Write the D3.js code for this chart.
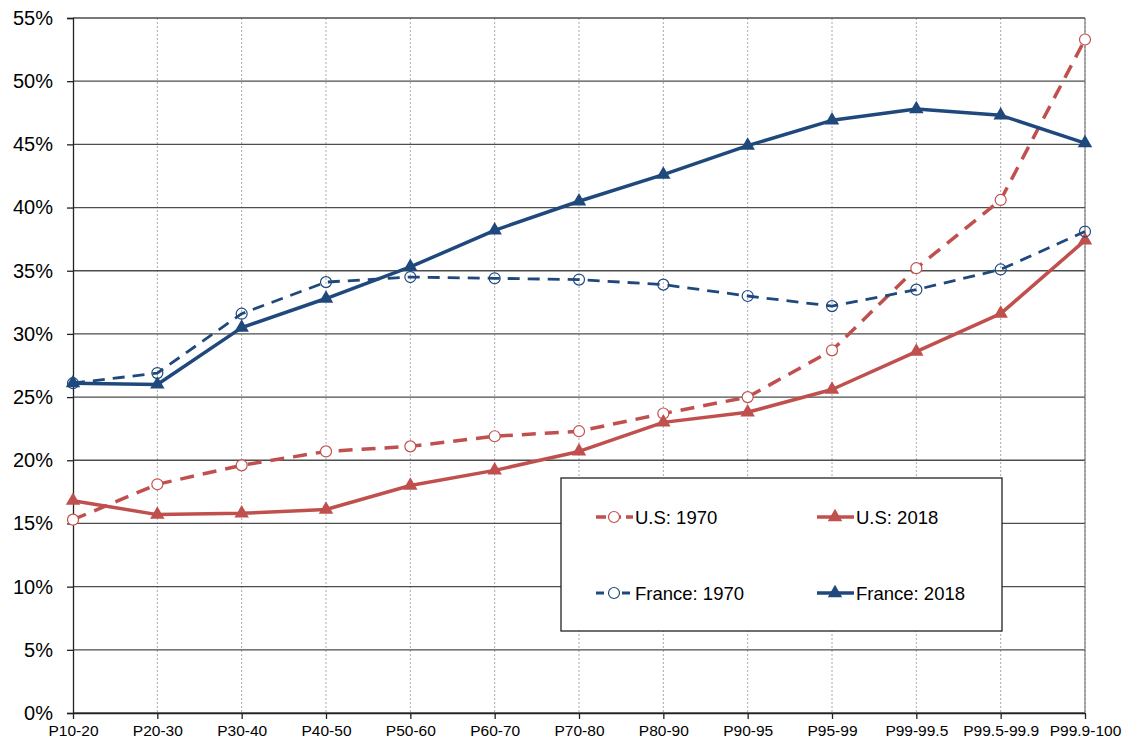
<!DOCTYPE html>
<html>
<head>
    <script src="https://cdn.jsdelivr.net/npm/d3@7"></script>
    <style>
        body { margin: 0; background: #fff; }
        svg { font-family: "Liberation Sans", Arial, sans-serif; }
    </style>
</head>
<body>
    <svg width="1130" height="745"></svg>
    <script>
        const categories = ['P10-20', 'P20-30', 'P30-40', 'P40-50', 'P50-60', 'P60-70', 'P70-80',
            'P80-90', 'P90-95', 'P95-99', 'P99-99.5', 'P99.5-99.9', 'P99.9-100']
        const us1970 = [15.3, 18.1, 19.6, 20.7, 21.1, 21.9, 22.3, 23.7, 25.0, 28.7, 35.2, 40.6, 53.3]
        const us2018 = [16.8, 15.7, 15.8, 16.1, 18.0, 19.2, 20.7, 23.0, 23.8, 25.6, 28.6, 31.6, 37.4]
        const fr1970 = [26.1, 26.9, 31.6, 34.1, 34.5, 34.4, 34.3, 33.9, 33.0, 32.2, 33.5, 35.1, 38.1]
        const fr2018 = [26.1, 26.0, 30.5, 32.8, 35.3, 38.2, 40.5, 42.6, 44.9, 46.9, 47.8, 47.3, 45.1]
        const yTicks = [0, 5, 10, 15, 20, 25, 30, 35, 40, 45, 50, 55]

        const RED = '#C0504D'
        const BLUE = '#1F497D'

        const series = [
            { name: 'U.S: 1970', values: us1970, color: RED, dash: '14,9', legDash: '10,5', width: 3.5, marker: 'circle', fill: '#fff' },
            { name: 'U.S: 2018', values: us2018, color: RED, dash: null, width: 3.5, marker: 'triangle' },
            { name: 'France: 1970', values: fr1970, color: BLUE, dash: '12,8', legDash: '8,5', width: 2.8, marker: 'circle', fill: 'none' },
            { name: 'France: 2018', values: fr2018, color: BLUE, dash: null, width: 3.5, marker: 'triangle' }
        ]

        const svg = d3.select('svg')
        const plotLeft = 73, plotRight = 1085, plotTop = 18, plotBottom = 713

        const x = d3.scalePoint().domain(categories).range([plotLeft, plotRight])
        const y = d3.scaleLinear().domain([0, 55]).range([plotBottom, plotTop])

        // vertical dotted gridlines
        svg.append('g').selectAll('line').data(categories.slice(1)).join('line')
            .attr('x1', d => x(d)).attr('x2', d => x(d))
            .attr('y1', plotTop).attr('y2', plotBottom)
            .attr('stroke', '#aaa').attr('stroke-width', 1).attr('stroke-dasharray', '2,2')

        // horizontal gridlines
        svg.append('g').selectAll('line').data(yTicks).join('line')
            .attr('x1', plotLeft).attr('x2', plotRight)
            .attr('y1', d => y(d)).attr('y2', d => y(d))
            .attr('stroke', '#4d4d4d').attr('stroke-width', 1.3)

        // y axis
        const yAxis = svg.append('g').attr('transform', `translate(${plotLeft},0)`)
            .call(d3.axisLeft(y).tickValues(yTicks).tickFormat(d => d + '%').tickSize(6).tickPadding(14))
        yAxis.select('.domain').attr('stroke', '#222').attr('stroke-width', 1.3)
        yAxis.selectAll('.tick line').attr('stroke', '#222').attr('stroke-width', 1.3)
        yAxis.selectAll('text').attr('font-size', 20).attr('fill', '#000')
            .attr('font-family', '"Liberation Sans", Arial, sans-serif')

        // x axis
        const xAxis = svg.append('g').attr('transform', `translate(0,${plotBottom})`)
            .call(d3.axisBottom(x).tickSize(6).tickPadding(6).tickSizeOuter(0))
        xAxis.select('.domain').attr('stroke', '#222').attr('stroke-width', 1.3)
        xAxis.selectAll('.tick line').attr('stroke', '#222').attr('stroke-width', 1.3)
        xAxis.selectAll('text').attr('font-size', 15.5).attr('fill', '#000')
            .attr('font-family', '"Liberation Sans", Arial, sans-serif')

        // right border
        svg.append('line').attr('x1', plotRight).attr('x2', plotRight).attr('y1', plotTop).attr('y2', plotBottom)
            .attr('stroke', '#666').attr('stroke-width', 1)

        const line = d3.line().x((d, i) => x(categories[i])).y(d => y(d))
        const tri = d3.symbol().type(d3.symbolTriangle).size(90)

        function drawMarker (g, cx, cy, s) {
            if (s.marker === 'circle') {
                g.append('circle').attr('cx', cx).attr('cy', cy).attr('r', 5.5)
                    .attr('fill', s.fill).attr('stroke', s.color).attr('stroke-width', 1.2)
            } else {
                g.append('path').attr('d', tri).attr('transform', `translate(${cx},${cy})`)
                    .attr('fill', s.color)
            }
        }

        series.forEach(s => {
            const g = svg.append('g')
            g.append('path').datum(s.values).attr('d', line)
                .attr('fill', 'none').attr('stroke', s.color).attr('stroke-width', s.width)
                .attr('stroke-dasharray', s.dash).attr('stroke-linejoin', 'round')
            s.values.forEach((v, i) => drawMarker(g, x(categories[i]), y(v), s))
        })

        // legend
        const lg = svg.append('g')
        lg.append('rect').attr('x', 561).attr('y', 478).attr('width', 441).attr('height', 153)
            .attr('fill', '#fff').attr('stroke', '#222').attr('stroke-width', 1.3)
        const legPos = [[596, 517], [817, 517], [596, 593], [817, 593]]
        series.forEach((s, i) => {
            const [lx, ly] = legPos[i]
            const g = lg.append('g')
            g.append('line').attr('x1', lx).attr('x2', lx + 37).attr('y1', ly).attr('y2', ly)
                .attr('stroke', s.color).attr('stroke-width', s.width)
                .attr('stroke-dasharray', s.legDash || null)
            drawMarker(g, lx + 18, ly, { ...s, fill: '#fff' })
            g.append('text').attr('x', lx + 39).attr('y', ly + 7).attr('font-size', 18.5)
                .text(s.name)
        })
    </script>
</body>
</html>
